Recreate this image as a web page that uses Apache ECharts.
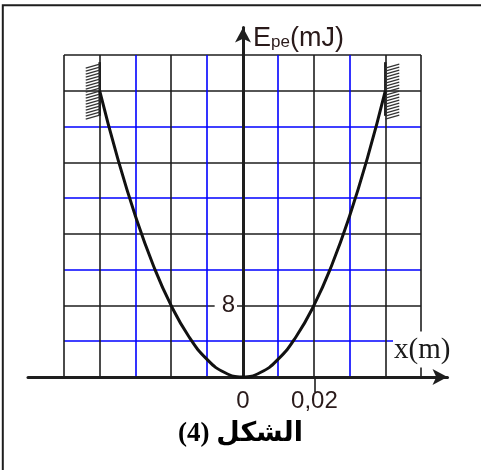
<!DOCTYPE html>
<html>
<head>
<meta charset="utf-8">
<script src="https://cdn.jsdelivr.net/npm/echarts@6/dist/echarts.min.js"></script>
<style>
html, body { margin: 0; padding: 0; background: #fff; }
#chart { width: 481px; height: 470px; }
</style>
</head>
<body>
<div id="chart"></div>
<script>
// displacement x (m) and elastic potential energy Epe (mJ)
var positions = [-0.04, -0.035, -0.03, -0.025, -0.02, -0.015, -0.01, -0.005, 0, 0.005, 0.01, 0.015, 0.02, 0.025, 0.03, 0.035, 0.04];
var energies = [32, 24.5, 18, 12.5, 8, 4.5, 2, 0.5, 0, 0.5, 2, 4.5, 8, 12.5, 18, 24.5, 32];
// fixed walls at the two ends: [x, from, to, side]
var walls = [[-0.04, 29.2, 35.2, -1], [0.04, 29.2, 35.2, 1]];
var xTickLabels = [0, 0.02];
var yTickLabels = [8];
var xName = 'x(m)';
var caption = '\u202Bالشكل (4)\u202C';

var BLACK = '#1e1e1e';
var BLUE = '#0000ff';
var xLineColors = [BLACK, BLACK, BLUE, BLACK, BLUE, BLACK, BLUE, BLACK, BLUE, BLACK, BLACK];
var yLineColors = [BLACK, BLUE, BLACK, BLUE, BLACK, BLUE, BLACK, BLUE, BLACK, BLACK];

var chart = echarts.init(document.getElementById('chart'));

function renderWall(params, api) {
	var top = api.coord([api.value(0), api.value(2)]);
	var bottom = api.coord([api.value(0), api.value(1)]);
	var side = api.value(3);
	var x = top[0];
	var children = [{
		type: 'line',
		shape: { x1: x, y1: top[1], x2: x, y2: bottom[1] },
		style: { stroke: BLACK, lineWidth: 2.5 }
	}];
	for (var y = top[1] + 2; y <= bottom[1]; y += 3) {
		children.push({
			type: 'line',
			shape: side < 0
				? { x1: x - 14, y1: y + 4, x2: x, y2: y }
				: { x1: x, y1: y + 4, x2: x + 14, y2: y },
			style: { stroke: '#333', lineWidth: 1.2 }
		});
	}
	return { type: 'group', children: children };
}

var option = {
	backgroundColor: '#fff',
	animation: false,
	graphic: [{
		type: 'polyline',
		shape: { points: [[2.8, 470], [2.8, 5.3], [481, 5.3]] },
		style: { stroke: BLACK, lineWidth: 2, fill: null }
	}],
	title: [{
		text: '{a|E}{b|pe}{a|(mJ)}',
		left: 251,
		top: 22,
		padding: [3, 3, 2, 2],
		backgroundColor: '#fff',
		textStyle: {
			fontWeight: 'normal',
			rich: {
				a: { fontFamily: 'Liberation Sans', fontWeight: 'normal', fontSize: 27, color: '#2a1a1a', lineHeight: 27, verticalAlign: 'bottom' },
				b: { fontFamily: 'Liberation Sans', fontWeight: 'normal', fontSize: 17, color: '#2a1a1a', lineHeight: 17, verticalAlign: 'bottom', padding: [0, 0, 1, 0] }
			}
		}
	}, {
		text: xName,
		left: 393,
		top: 332,
		padding: [4, 2, 3, 1],
		backgroundColor: '#fff',
		textStyle: { fontFamily: 'Liberation Serif', fontSize: 29, fontWeight: 'normal', color: '#1a1a1a', lineHeight: 28 }
	}, {
		text: caption,
		left: 'center',
		top: 421,
		padding: 0,
		textStyle: { fontFamily: "'Liberation Serif', 'DejaVu Sans'", fontSize: 27, fontWeight: 'bold', color: '#000' }
	}],
	grid: [
		{ left: 64, right: 60, top: 55, bottom: 93 },
		{ left: 28, right: 33.5, top: 27.5, bottom: 93 }
	],
	xAxis: [{
		gridIndex: 0,
		type: 'value',
		min: -0.05,
		max: 0.05,
		interval: 0.01,
		axisLine: { show: false },
		axisTick: { show: false },
		axisLabel: { show: false },
		splitLine: { show: true, lineStyle: { color: xLineColors, width: 1.6 } }
	}, {
		gridIndex: 1,
		type: 'value',
		min: -0.06022,
		max: 0.05728,
		z: 3,
		axisLine: { show: true, onZero: false, symbol: ['none', 'arrow'], symbolSize: [12, 15], lineStyle: { color: BLACK, width: 3 } },
		axisTick: { show: true, customValues: [0.02], length: 15, inside: false, lineStyle: { color: BLACK, width: 1.6 } },
		axisLabel: {
			show: true,
			customValues: xTickLabels,
			margin: 12,
			fontFamily: 'Liberation Sans',
			fontSize: 24,
			color: '#2a1a1a',
			formatter: function (v) { return String(v).replace('.', ','); }
		},
		splitLine: { show: false }
	}],
	yAxis: [{
		gridIndex: 0,
		type: 'value',
		min: 0,
		max: 36,
		interval: 4,
		axisLine: { show: false },
		axisTick: { show: false },
		axisLabel: { show: false },
		splitLine: { show: true, lineStyle: { color: yLineColors, width: 1.6 } }
	}, {
		gridIndex: 1,
		type: 'value',
		min: 0,
		max: 39.08,
		z: 3,
		// sits on x = 0 of the graph paper
		offset: -215,
		axisLine: { show: true, onZero: false, symbol: ['none', 'arrow'], symbolSize: [12, 15], lineStyle: { color: BLACK, width: 3 } },
		axisTick: { show: false },
		axisLabel: {
			show: true,
			customValues: yTickLabels,
			margin: 6,
			padding: [1, 2, 1, 7],
			backgroundColor: '#fff',
			fontFamily: 'Liberation Sans',
			fontSize: 24,
			color: '#2a1a1a'
		},
		splitLine: { show: false }
	}],
	series: [{
		type: 'custom',
		xAxisIndex: 0,
		yAxisIndex: 0,
		renderItem: renderWall,
		data: walls,
		silent: true,
		z: 3
	}, {
		type: 'line',
		xAxisIndex: 0,
		yAxisIndex: 0,
		data: positions.map(function (x, i) { return [x, energies[i]]; }),
		smooth: true,
		showSymbol: false,
		lineStyle: { color: '#111', width: 3 },
		z: 4
	}]
};

chart.setOption(option);
</script>
</body>
</html>
